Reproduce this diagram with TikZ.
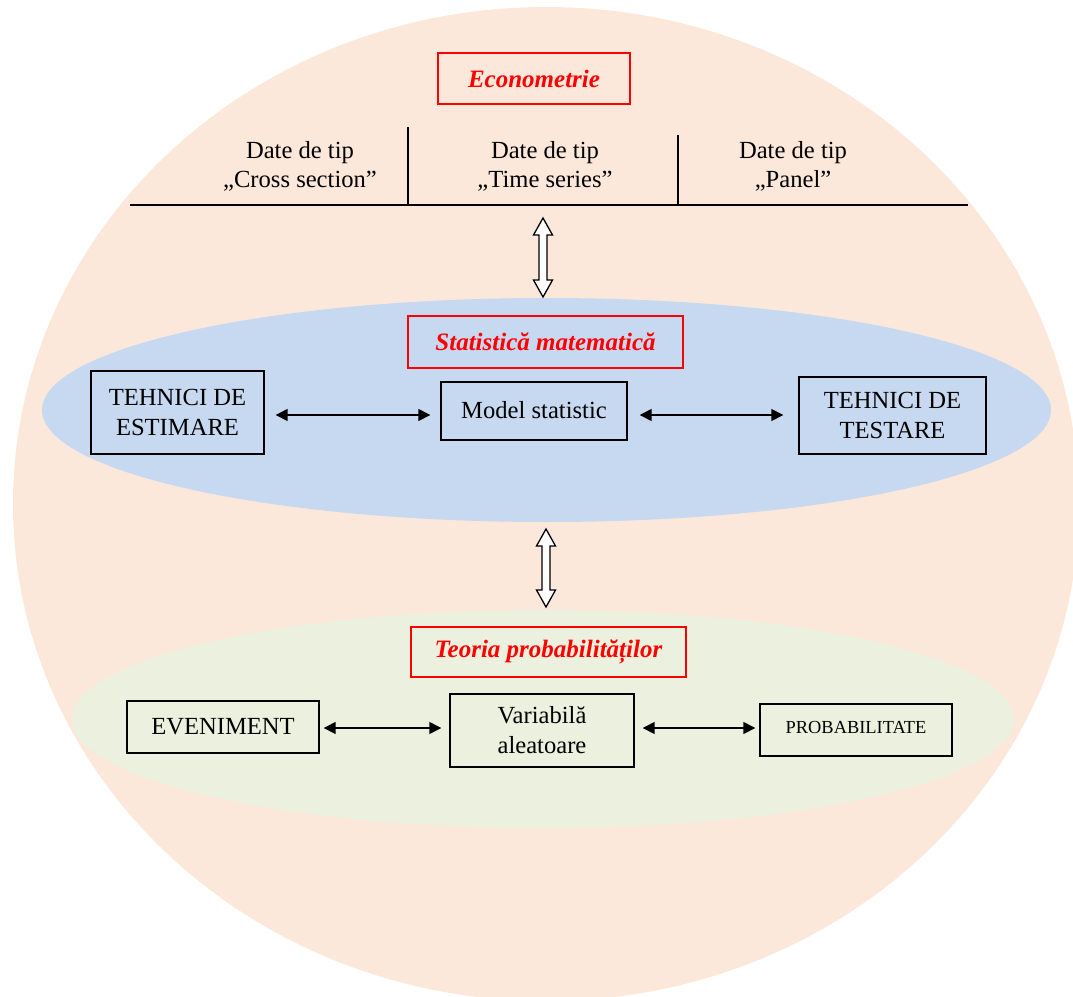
\documentclass[tikz,border=0pt]{standalone}
\usepackage{fontspec}
\setmainfont{Liberation Serif}
\usetikzlibrary{shapes.geometric,arrows.meta}
\definecolor{peach}{HTML}{FCE8DA}
\definecolor{lblue}{HTML}{C6D9F1}
\definecolor{lgreen}{HTML}{EBF1DE}
\begin{document}
\begin{tikzpicture}[x=1pt,y=-1pt,
  region/.style={ellipse, inner sep=0pt, draw=none},
  box/.style={draw=black, line width=1.4pt, inner sep=0pt, align=center,
    font=\fontsize{24.6}{30}\selectfont},
  title/.style={draw=red, line width=1.4pt, text=red, inner sep=0pt,
    font=\fontsize{25}{30}\selectfont\bfseries\itshape},
  lbl/.style={align=center, inner sep=0pt, font=\fontsize{24.6}{29}\selectfont},
  biarrow/.style={{Triangle[length=12pt,width=12pt]}-{Triangle[length=12pt,width=12pt]}, line width=1.5pt},
  blockarr/.style={draw=black, fill=white, line width=1.3pt, line join=miter},
  rule/.style={line width=1.3pt}]
\useasboundingbox (0,0) rectangle (1073,996);
\clip (0,0) rectangle (1073,996);

% regions
\node[region, fill=peach, minimum width=1066pt, minimum height=994pt] (outer) at (546,504) {};
\node[region, fill=lblue, minimum width=1009pt, minimum height=224pt] (blue) at (546.5,410) {};
\node[region, fill=lgreen, minimum width=942pt, minimum height=218pt] (green) at (543,719) {};

% Econometrie
\node[title, minimum width=192pt, minimum height=51pt] (econ) at (534,78.5) {Econometrie};
\draw[rule] (130,205) -- (968,205);
\draw[rule] (408,127) -- (408,205);
\draw[rule] (678,135) -- (678,205);
\node[lbl] (cs) at (300,166) {Date de tip\\„Cross section”};
\node[lbl] (ts) at (545,166) {Date de tip\\„Time series”};
\node[lbl] (pn) at (793,166) {Date de tip\\„Panel”};

% block arrows
\coordinate (ba1) at (543,218);
\draw[blockarr] (ba1) -- ++(9.5,17) -- ++(-5.5,0) -- ++(0,45) -- ++(5.5,0) -- ++(-9.5,17)
  -- ++(-9.5,-17) -- ++(5.5,0) -- ++(0,-45) -- ++(-5.5,0) -- cycle;
\coordinate (ba2) at (546,529);
\draw[blockarr] (ba2) -- ++(9.5,17) -- ++(-5.5,0) -- ++(0,44) -- ++(5.5,0) -- ++(-9.5,17)
  -- ++(-9.5,-17) -- ++(5.5,0) -- ++(0,-44) -- ++(-5.5,0) -- cycle;

% Statistica matematica
\node[title, minimum width=275pt, minimum height=52pt] (stat) at (545.5,342) {Statistică matematică};
\node[box, minimum width=173pt, minimum height=83pt] (est) at (177.5,412.5) {TEHNICI DE\\ESTIMARE};
\node[box, minimum width=186pt, minimum height=58pt] (model) at (534,411) {\raisebox{3pt}{Model statistic}};
\node[box, minimum width=187pt, minimum height=77pt] (test) at (892.5,415.5) {TEHNICI DE\\TESTARE};
\coordinate (r1) at (0,415);
\draw[biarrow, shorten <=11pt, shorten >=10pt] (est.east |- r1) -- (model.west |- r1);
\draw[biarrow, shorten <=12pt, shorten >=15pt] (model.east |- r1) -- (test.west |- r1);

% Teoria probabilitatilor
\node[title, minimum width=275pt, minimum height=50pt] (teor) at (548.5,652) {Teoria probabilităților};
\node[box, minimum width=192pt, minimum height=52pt] (even) at (223,727) {EVENIMENT};
\node[box, minimum width=184pt, minimum height=73pt] (var) at (542,730.5) {Variabilă\\aleatoare};
\node[box, minimum width=192pt, minimum height=52pt, font=\fontsize{18.4}{22}\selectfont] (prob) at (856,730) {\raisebox{5pt}{PROBABILITATE}};
\coordinate (r2) at (0,728);
\draw[biarrow, shorten <=4pt, shorten >=8pt] (even.east |- r2) -- (var.west |- r2);
\draw[biarrow, shorten <=8pt, shorten >=4pt] (var.east |- r2) -- (prob.west |- r2);
\end{tikzpicture}
\end{document}
